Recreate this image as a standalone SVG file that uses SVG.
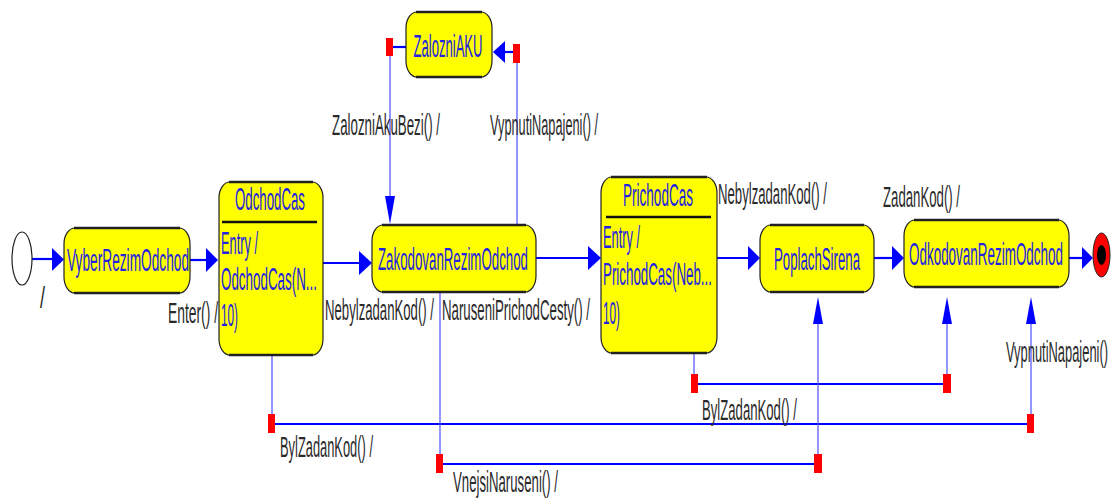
<svg xmlns="http://www.w3.org/2000/svg" width="1117" height="502" viewBox="0 0 1117 502">
<style>
.box{fill:#ffff00;stroke:#222;stroke-width:1.2}
.edge{stroke:#222;stroke-width:2.6;fill:none}
.nt{font-family:"Liberation Sans",Arial,sans-serif;font-size:31px;fill:#2323e0}
.lb{font-family:"Liberation Sans",Arial,sans-serif;font-size:29px;fill:#2a2a2a}
.thick{stroke:#0000ff;stroke-width:2.2;fill:none}
.thin{stroke:#4d4dff;stroke-width:1.2;fill:none}
.ah{fill:#0000ff}
.rs{fill:#ff0000}
.ul{stroke:#111;stroke-width:2.4}
</style>
<rect width="1117" height="502" fill="#ffffff"/>

<g id="connectors">
  <line class="thick" x1="32" y1="259" x2="54" y2="259"/>
  <polygon class="ah" points="52,248 64,259.5 52,271"/>
  <line class="thick" x1="190" y1="260" x2="208" y2="260"/>
  <polygon class="ah" points="206,248 218,260 206,272"/>
  <line class="thick" x1="323" y1="263" x2="362" y2="263"/>
  <polygon class="ah" points="359,251 372,263 359,275"/>
  <line class="thick" x1="536" y1="258" x2="590" y2="258"/>
  <polygon class="ah" points="588,246 601,258 588,270"/>
  <line class="thick" x1="717" y1="258" x2="750" y2="258"/>
  <polygon class="ah" points="748,246 760,258 748,270"/>
  <line class="thick" x1="874" y1="258" x2="894" y2="258"/>
  <polygon class="ah" points="892,246 904,258 892,270"/>
  <line class="thick" x1="1069" y1="258" x2="1084" y2="258"/>
  <polygon class="ah" points="1082,247 1093,258 1082,269"/>

  <line class="thick" x1="393" y1="47" x2="406" y2="47"/>
  <rect class="rs" x="386" y="38" width="7" height="18"/>
  <line class="thin" x1="390" y1="56" x2="390" y2="198"/>
  <polygon class="ah" points="385,196 390,224 395,196"/>

  <line class="thin" x1="517" y1="225" x2="517" y2="62"/>
  <line class="thick" x1="503" y1="52" x2="513" y2="52"/>
  <rect class="rs" x="513" y="44" width="7" height="19"/>
  <polygon class="ah" points="505,41 493,52 505,63"/>

  <line class="thin" x1="272" y1="355" x2="272" y2="414"/>
  <line class="thick" x1="275" y1="424" x2="1027" y2="424"/>
  <rect class="rs" x="268" y="414" width="7" height="19"/>
  <rect class="rs" x="1027" y="414" width="7" height="19"/>
  <line class="thin" x1="1031" y1="414" x2="1031" y2="322"/>
  <polygon class="ah" points="1026,324 1031,297 1036,324"/>

  <line class="thin" x1="694" y1="353" x2="694" y2="374"/>
  <line class="thick" x1="698" y1="384" x2="943" y2="384"/>
  <rect class="rs" x="691" y="374" width="7" height="19"/>
  <rect class="rs" x="943" y="374" width="8" height="19"/>
  <line class="thin" x1="947" y1="374" x2="947" y2="322"/>
  <polygon class="ah" points="942,324 947,297 952,324"/>

  <line class="thin" x1="440" y1="292" x2="440" y2="454"/>
  <line class="thick" x1="443" y1="464" x2="814" y2="464"/>
  <rect class="rs" x="436" y="454" width="7" height="19"/>
  <rect class="rs" x="814" y="454" width="8" height="19"/>
  <line class="thin" x1="818" y1="454" x2="818" y2="322"/>
  <polygon class="ah" points="813,324 818,297 823,324"/>

  <text class="lb" x="40" y="308" textLength="5" lengthAdjust="spacingAndGlyphs">/</text>
  <text class="lb" x="168" y="323" textLength="50" lengthAdjust="spacingAndGlyphs">Enter() /</text>
  <text class="lb" x="325" y="320" textLength="109" lengthAdjust="spacingAndGlyphs">NebylzadanKod() /</text>
  <text class="lb" x="442" y="320" textLength="148" lengthAdjust="spacingAndGlyphs">NaruseniPrichodCesty() /</text>
  <text class="lb" x="332" y="135" textLength="108" lengthAdjust="spacingAndGlyphs">ZalozniAkuBezi() /</text>
  <text class="lb" x="490" y="135" textLength="108" lengthAdjust="spacingAndGlyphs">VypnutiNapajeni() /</text>
  <text class="lb" x="718" y="204" textLength="109" lengthAdjust="spacingAndGlyphs">NebylzadanKod() /</text>
  <text class="lb" x="883" y="207" textLength="77" lengthAdjust="spacingAndGlyphs">ZadanKod() /</text>
  <text class="lb" x="1006" y="362" textLength="102" lengthAdjust="spacingAndGlyphs">VypnutiNapajeni()</text>
  <text class="lb" x="280" y="457" textLength="93" lengthAdjust="spacingAndGlyphs">BylZadanKod() /</text>
  <text class="lb" x="702" y="420" textLength="95" lengthAdjust="spacingAndGlyphs">BylZadanKod() /</text>
  <text class="lb" x="453" y="492" textLength="105" lengthAdjust="spacingAndGlyphs">VnejsiNaruseni() /</text>
</g>

<g id="initial">
  <ellipse cx="22" cy="258.5" rx="10" ry="26.5" fill="#fff" stroke="#222" stroke-width="1.2"/>
</g>

<g id="VyberRezimOdchod">
  <rect class="box" x="64" y="228" width="126" height="65" rx="11" ry="16"/>
  <line class="edge" x1="74" y1="228" x2="180" y2="228"/>
  <line class="edge" x1="74" y1="293" x2="180" y2="293"/>
  <text class="nt" x="128" y="271" text-anchor="middle" textLength="122" lengthAdjust="spacingAndGlyphs">VyberRezimOdchod</text>
</g>

<g id="OdchodCas">
  <rect class="box" x="219" y="182" width="104" height="173" rx="11" ry="16"/>
  <line class="edge" x1="229" y1="182" x2="313" y2="182"/>
  <line class="edge" x1="229" y1="355" x2="313" y2="355"/>
  <text class="nt" x="270" y="210" text-anchor="middle" textLength="70" lengthAdjust="spacingAndGlyphs">OdchodCas</text>
  <line class="ul" x1="222" y1="222" x2="317" y2="222"/>
  <text class="nt" x="221" y="254" textLength="37" lengthAdjust="spacingAndGlyphs">Entry /</text>
  <text class="nt" x="221" y="290" textLength="96" lengthAdjust="spacingAndGlyphs">OdchodCas(N...</text>
  <text class="nt" x="221" y="326" textLength="17" lengthAdjust="spacingAndGlyphs">10)</text>
</g>

<g id="ZalozniAKU">
  <rect class="box" x="406" y="12" width="86" height="65" rx="11" ry="16"/>
  <line class="edge" x1="416" y1="12" x2="482" y2="12"/>
  <line class="edge" x1="416" y1="77" x2="482" y2="77"/>
  <text class="nt" x="448" y="57" text-anchor="middle" textLength="69" lengthAdjust="spacingAndGlyphs">ZalozniAKU</text>
</g>

<g id="ZakodovanRezimOdchod">
  <rect class="box" x="372" y="225" width="164" height="67" rx="11" ry="16"/>
  <line class="edge" x1="382" y1="225" x2="526" y2="225"/>
  <line class="edge" x1="382" y1="292" x2="526" y2="292"/>
  <text class="nt" x="453" y="270" text-anchor="middle" textLength="150" lengthAdjust="spacingAndGlyphs">ZakodovanRezimOdchod</text>
</g>

<g id="PrichodCas">
  <rect class="box" x="601" y="177" width="116" height="176" rx="11" ry="16"/>
  <line class="edge" x1="611" y1="177" x2="707" y2="177"/>
  <line class="edge" x1="611" y1="353" x2="707" y2="353"/>
  <text class="nt" x="658" y="206" text-anchor="middle" textLength="70" lengthAdjust="spacingAndGlyphs">PrichodCas</text>
  <line class="ul" x1="606" y1="217" x2="711" y2="217"/>
  <text class="nt" x="603" y="248" textLength="37" lengthAdjust="spacingAndGlyphs">Entry /</text>
  <text class="nt" x="603" y="285" textLength="109" lengthAdjust="spacingAndGlyphs">PrichodCas(Neb...</text>
  <text class="nt" x="603" y="324" textLength="17" lengthAdjust="spacingAndGlyphs">10)</text>
</g>

<g id="PoplachSirena">
  <rect class="box" x="760" y="225" width="114" height="67" rx="11" ry="16"/>
  <line class="edge" x1="770" y1="225" x2="864" y2="225"/>
  <line class="edge" x1="770" y1="292" x2="864" y2="292"/>
  <text class="nt" x="817" y="270" text-anchor="middle" textLength="86" lengthAdjust="spacingAndGlyphs">PoplachSirena</text>
</g>

<g id="OdkodovanRezimOdchod">
  <rect class="box" x="904" y="220" width="165" height="67" rx="11" ry="16"/>
  <line class="edge" x1="914" y1="220" x2="1059" y2="220"/>
  <line class="edge" x1="914" y1="287" x2="1059" y2="287"/>
  <text class="nt" x="986" y="265" text-anchor="middle" textLength="154" lengthAdjust="spacingAndGlyphs">OdkodovanRezimOdchod</text>
</g>

<g id="final">
  <ellipse cx="1101.5" cy="255" rx="8.5" ry="22" fill="#ff0000" stroke="#222" stroke-width="1"/>
  <ellipse cx="1101.5" cy="255" rx="4.5" ry="10" fill="#000"/>
</g>
</svg>
